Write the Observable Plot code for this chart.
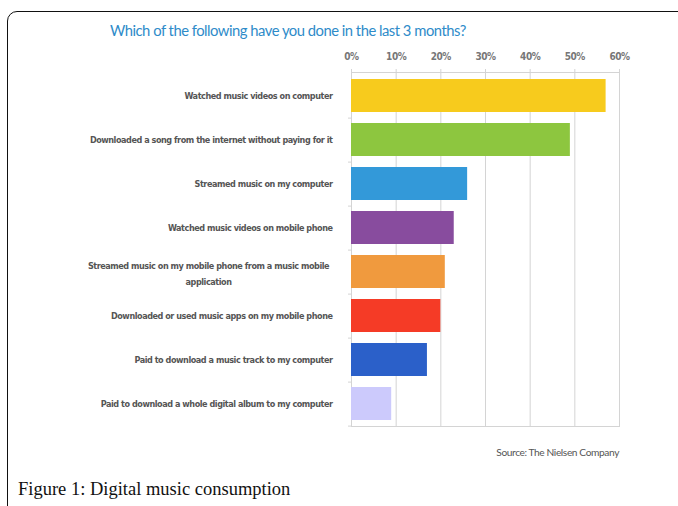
<!DOCTYPE html>
<html>
<head>
<meta charset="utf-8">
<script src="https://cdn.jsdelivr.net/npm/d3@7"></script>
<script src="https://cdn.jsdelivr.net/npm/@observablehq/plot@0.6"></script>
<style>
  html, body { margin: 0; padding: 0; background: #fff; width: 678px; height: 506px; overflow: hidden; }
  #page { position: relative; width: 678px; height: 506px; }
  #frame { position: absolute; left: 7px; top: 11px; width: 700px; height: 520px;
           border: 1.5px solid #111; border-top-left-radius: 10px; box-sizing: border-box; }
  #title { position: absolute; left: 110px; top: 21px; font-family: Lato, "DejaVu Sans", sans-serif;
           font-size: 14.8px; letter-spacing: -0.5px; color: #2e8bc9; white-space: nowrap; }
  #chart { position: absolute; left: 0; top: 40px; }
  #source { position: absolute; right: 59px; top: 446px; font-family: Lato, "DejaVu Sans", sans-serif;
            font-size: 10.2px; letter-spacing: -0.4px; color: #555; white-space: nowrap; }
  #caption { position: absolute; left: 18px; top: 479px; font-family: "Liberation Serif", "Times New Roman", serif;
             font-size: 18.5px; color: #111; white-space: nowrap; }
</style>
</head>
<body>
<div id="page">
  <div id="frame"></div>
  <div id="title"></div>
  <div id="chart"></div>
  <div id="source"></div>
  <div id="caption"></div>
</div>
<script>
const titleText = "Which of the following have you done in the last 3 months?";
const sourceText = "Source: The Nielsen Company";
const captionText = "Figure 1: Digital music consumption";

const categories = [
  "Watched music videos on computer",
  "Downloaded a song from the internet without paying for it",
  "Streamed music on my computer",
  "Watched music videos on mobile phone",
  "Streamed music on my mobile phone from a music mobile application",
  "Downloaded or used music apps on my mobile phone",
  "Paid to download a music track to my computer",
  "Paid to download a whole digital album to my computer"
];
const values = [57, 49, 26, 23, 21, 20, 17, 9];
const colors = ["#f7cb1d", "#8dc63f", "#3399d9", "#884c9e", "#f09a3e", "#f53b26", "#2b60c9", "#cccafc"];
const xTicks = [0, 10, 20, 30, 40, 50, 60];
const wrappedLabels = {
  "Streamed music on my mobile phone from a music mobile application":
    "Streamed music on my mobile phone from a music mobile\napplication"
};

document.getElementById("title").textContent = titleText;
document.getElementById("source").textContent = sourceText;
document.getElementById("caption").textContent = captionText;

const data = categories.map((c, i) => ({category: c, value: values[i], color: colors[i]}));
const labelFont = "'DejaVu Sans', sans-serif";
const wrapped = categories.filter(c => wrappedLabels[c]);

const chart = Plot.plot({
  width: 678,
  height: 420,
  marginLeft: 351,
  marginRight: 59,
  marginTop: 32,
  marginBottom: 34,
  style: {background: "transparent", overflow: "visible", fontFamily: labelFont, fontStretch: "condensed", letterSpacing: "-0.45px"},
  x: {domain: [0, 60]},
  y: {domain: categories, paddingInner: 0.25, paddingOuter: 0.125},
  color: {type: "identity"},
  marks: [
    Plot.gridX(xTicks, {stroke: "#d4d4d4", strokeOpacity: 1}),
    Plot.frame({stroke: "#d4d4d4"}),
    Plot.barX(data, {y: "category", x: "value", fill: "color"}),
    Plot.axisX({anchor: "top", ticks: xTicks, tickFormat: d => d + "%", tickSize: 4, tickPadding: 9,
                stroke: "#d4d4d4", fill: "#777", fontSize: 10, fontWeight: "bold", label: null}),
    Plot.axisY({anchor: "left", tickSize: 3, text: null, stroke: "#d4d4d4", dy: 22.1, label: null}),
    Plot.axisY({anchor: "left", tickSize: 0, tickPadding: 19, label: null,
                tickFormat: d => wrappedLabels[d] ? "" : d,
                fill: "#555", fontSize: 9, fontWeight: "bold"}),
    Plot.text(wrapped, {y: d => d, text: d => wrappedLabels[d], frameAnchor: "left", textAnchor: "middle",
                        dx: -143, lineHeight: 1.75, fill: "#555", fontSize: 9, fontWeight: "bold"})
  ]
});
document.getElementById("chart").appendChild(chart);
</script>
</body>
</html>
